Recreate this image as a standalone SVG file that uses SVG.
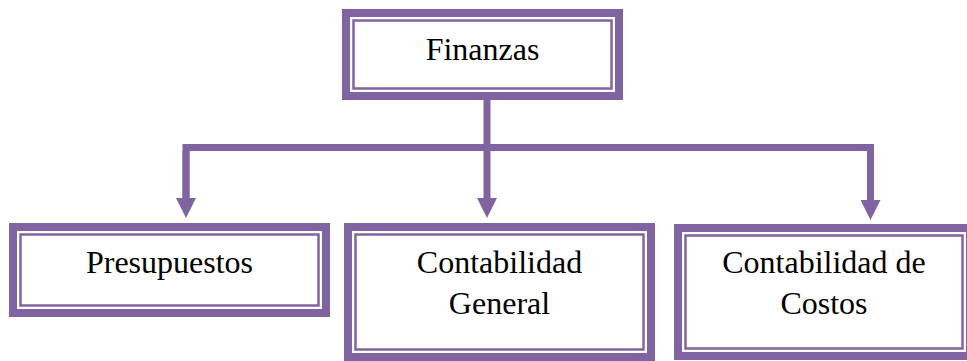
<svg xmlns="http://www.w3.org/2000/svg" width="967" height="361" viewBox="0 0 967 361">
  <style>
    .outer { fill: #FFFFFF; stroke: #8064A2; stroke-width: 8; }
    .inner { fill: none; stroke: #8064A2; stroke-width: 2.5; }
    .label { font-family: "Liberation Serif", "Times New Roman", serif; font-size: 32px; fill: #000000; text-anchor: middle; }
    .conn { fill: none; stroke: #8064A2; stroke-width: 7; stroke-linejoin: miter; }
  </style>
  <defs>
    <marker id="arrow" markerUnits="userSpaceOnUse" viewBox="0 0 20 20" markerWidth="20" markerHeight="20" refX="0" refY="10" orient="auto">
      <path d="M0,0 L20,10 L0,20 z" fill="#8064A2"/>
    </marker>
  </defs>
  <rect width="967" height="361" fill="#FFFFFF"/>

  <g id="connectors">
    <path class="conn" d="M186 198 V147.5 H870.5 V200" marker-end="url(#arrow)"/>
    <path class="conn" d="M186 151 V198" marker-end="url(#arrow)"/>
    <path class="conn" d="M487 100 V198" marker-end="url(#arrow)"/>
  </g>

  <g id="finanzas">
    <rect class="outer" x="346" y="13" width="273" height="83"/>
    <rect class="inner" x="353.5" y="20.5" width="258" height="68"/>
    <text class="label" x="482.5" y="60">Finanzas</text>
  </g>

  <g id="presupuestos">
    <rect class="outer" x="13" y="227" width="313" height="86"/>
    <rect class="inner" x="20.5" y="234.5" width="298" height="71"/>
    <text class="label" x="169.5" y="273">Presupuestos</text>
  </g>

  <g id="contabilidad-general">
    <rect class="outer" x="348" y="227" width="303" height="130"/>
    <rect class="inner" x="355.5" y="234.5" width="288" height="115"/>
    <text class="label" x="499.5" y="273">Contabilidad</text>
    <text class="label" x="499.5" y="314">General</text>
  </g>

  <g id="contabilidad-costos">
    <rect class="outer" x="678" y="228" width="292" height="128"/>
    <rect class="inner" x="685.5" y="235.5" width="277" height="113"/>
    <text class="label" x="824" y="273">Contabilidad de</text>
    <text class="label" x="824" y="314">Costos</text>
  </g>
</svg>
